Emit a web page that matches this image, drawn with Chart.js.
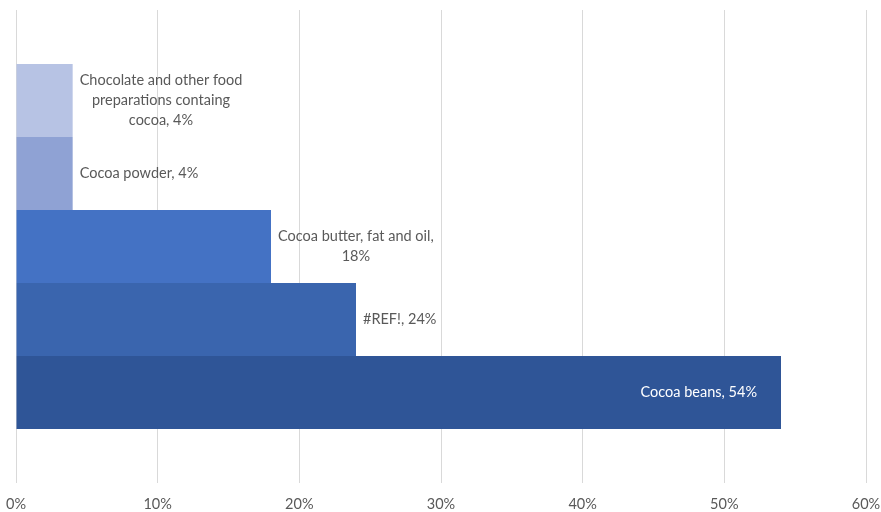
<!DOCTYPE html>
<html>
<head>
<meta charset="utf-8">
<script src="https://cdn.jsdelivr.net/npm/chart.js@4/dist/chart.umd.min.js"></script>
<style>
  html, body { margin: 0; padding: 0; background: #fff; }
  #wrap { width: 881px; height: 512px; position: relative; }
</style>
</head>
<body>
<div id="wrap"><canvas id="chart"></canvas></div>
<script>
// Cocoa export shares, top bar first
const products = ['Chocolate and other food preparations containg cocoa', 'Cocoa powder', 'Cocoa butter, fat and oil', '#REF!', 'Cocoa beans'];
const shares = [4, 4, 18, 24, 54];
const barColors = ['#B7C3E4', '#8FA2D4', '#4472C4', '#3A65AE', '#2F5597'];
const xTicks = [0, 10, 20, 30, 40, 50, 60];

const FONT = 'Lato, "Open Sans", sans-serif';

function wrapText(ctx, text, maxWidth) {
    const words = text.split(' ');
    const lines = [];
    let line = '';
    words.forEach(w => {
        const test = line ? line + ' ' + w : w;
        if (line && ctx.measureText(test).width > maxWidth) {
            lines.push(line);
            line = w;
        } else {
            line = test;
        }
    });
    if (line) lines.push(line);
    return lines;
}

// Data labels: outside end for short bars, inside end (white) for the long one
const barLabels = {
    id: 'barLabels',
    afterDatasetsDraw(chart) {
        const ctx = chart.ctx;
        ctx.save();
        ctx.font = '14.5px ' + FONT;
        ctx.textBaseline = 'middle';
        chart.data.datasets.forEach((ds, i) => {
            const bar = chart.getDatasetMeta(i).data[0];
            const text = products[i] + ', ' + shares[i] + '%';
            const lines = wrapText(ctx, text, 170);
            const lineH = 20;
            const y0 = bar.y - (lines.length - 1) * lineH / 2;
            if (shares[i] > 40) {
                ctx.fillStyle = '#FFFFFF';
                ctx.textAlign = 'right';
                lines.forEach((l, k) => ctx.fillText(l, bar.x - 24, y0 + k * lineH));
            } else {
                ctx.fillStyle = '#595959';
                ctx.textAlign = 'center';
                const w = Math.max(...lines.map(l => ctx.measureText(l).width));
                const cx = bar.x + 7 + w / 2;
                lines.forEach((l, k) => ctx.fillText(l, cx, y0 + k * lineH));
            }
        });
        ctx.restore();
    }
};

new Chart(document.getElementById('chart'), {
    type: 'bar',
    data: {
        labels: ['Share'],
        datasets: products.map((p, i) => ({
            label: p,
            data: [shares[i]],
            backgroundColor: barColors[i],
            borderWidth: 0,
            categoryPercentage: 0.772,
            barPercentage: 1
        }))
    },
    options: {
        indexAxis: 'y',
        responsive: true,
        maintainAspectRatio: false,
        animation: false,
        layout: { padding: { left: 16, right: 15, top: 10, bottom: 0 } },
        plugins: {
            legend: { display: false },
            tooltip: { enabled: false }
        },
        scales: {
            y: { display: false },
            x: {
                min: 0,
                max: 60,
                afterBuildTicks: (scale) => { scale.ticks = xTicks.map(v => ({ value: v })); },
                afterFit: (scale) => {
                    scale.height = 29;
                    // let the end labels hang into the outer padding
                    scale.paddingLeft = 0;
                    scale.paddingRight = 0;
                },
                border: { display: false },
                grid: { color: '#D9D9D9', drawTicks: false },
                ticks: {
                    padding: 13,
                    color: '#595959',
                    font: { family: FONT, size: 14.5 },
                    callback: (v) => v + '%'
                }
            }
        }
    },
    plugins: [barLabels]
});
</script>
</body>
</html>
